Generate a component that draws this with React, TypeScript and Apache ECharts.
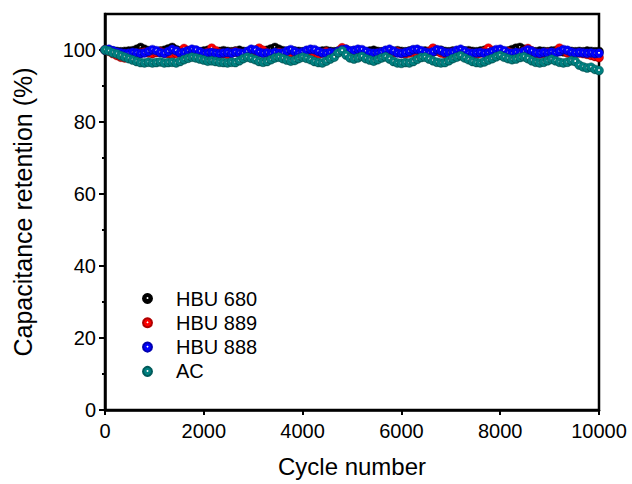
import React, { useEffect, useRef } from "react";
import * as echarts from "echarts";

const STEP = 80;
const COUNT = 126;
const cycles: number[] = Array.from({ length: COUNT }, (_, i) => i * STEP);

const seriesNames = ["HBU 680", "HBU 889", "HBU 888", "AC"];
const seriesColors = ["#000000", "#ff0000", "#0000ff", "#008080"];
const seriesDark = ["#000000", "#b00000", "#0000b0", "#005a5a"];

const hbu680: number[] = [
  100, 99.9, 99.7, 99.6, 99.5, 99.6, 99.7, 99.8, 100.2, 100.7,
  100.2, 99.8, 99.6, 99.5, 99.7, 99.9, 100.3, 100.7, 100.1, 99.7,
  99.5, 99.6, 99.8, 99.6, 99.5, 99.7, 99.9, 99.7, 99.5, 99.6,
  99.8, 99.6, 99.5, 99.7, 99.9, 99.6, 99.5, 99.7, 99.6, 99.5,
  99.7, 99.9, 100.3, 100.7, 100.2, 99.8, 99.6, 99.5, 99.7, 99.6,
  99.5, 99.7, 99.9, 99.6, 99.5, 99.7, 99.8, 99.6, 99.5, 99.7,
  99.9, 99.6, 99.5, 99.7, 99.8, 99.6, 99.5, 99.7, 99.9, 99.6,
  99.5, 99.7, 99.6, 99.5, 99.8, 99.6, 99.5, 99.7, 99.9, 99.6,
  99.5, 99.7, 99.6, 99.5, 99.7, 99.9, 99.6, 99.5, 99.7, 99.6,
  99.5, 99.7, 99.8, 99.6, 99.5, 99.7, 99.9, 99.6, 99.5, 99.7,
  99.6, 99.5, 99.7, 100.1, 100.5, 100.7, 100.2, 99.8, 99.6, 99.5,
  99.7, 99.6, 99.5, 99.7, 99.8, 99.6, 99.5, 99.7, 99.6, 99.5,
  99.6, 99.5, 99.7, 99.6, 99.5, 99.6,
];

const hbu889: number[] = [
  100, 99.6, 99.0, 98.5, 98.0, 97.8, 98.2, 98.6, 99.0, 99.2,
  99.4, 99.2, 99.0, 99.3, 99.5, 99.2, 99.0, 98.8, 99.1, 99.3,
  100.4, 99.8, 99.2, 99.0, 98.6, 99.0, 99.4, 100.5, 99.8, 99.2,
  99.0, 98.8, 99.2, 99.5, 99.1, 98.9, 99.0, 99.3, 99.6, 100.5,
  99.9, 99.2, 98.8, 99.0, 99.3, 99.1, 98.9, 99.2, 99.4, 99.0,
  98.7, 99.0, 99.3, 99.1, 98.8, 99.2, 99.5, 99.2, 99.0, 99.4,
  100.6, 100.2, 99.4, 99.0, 98.8, 99.2, 99.4, 99.0, 98.7, 99.1,
  99.3, 99.0, 98.8, 99.2, 99.5, 99.1, 98.9, 99.2, 99.4, 99.0,
  98.8, 99.2, 99.6, 100.5, 99.9, 99.2, 98.9, 99.1, 99.4, 99.2,
  98.9, 99.1, 99.3, 99.0, 98.8, 99.2, 99.6, 100.5, 99.8, 99.2,
  99.0, 99.3, 99.5, 99.1, 98.8, 99.2, 99.6, 100.4, 99.7, 99.1,
  98.9, 99.1, 99.3, 99.0, 99.4, 100.5, 99.8, 99.2, 98.9, 99.0,
  99.2, 99.0, 98.8, 98.5, 98.2, 97.9,
];

const hbu888: number[] = [
  100, 100.2, 99.8, 99.4, 99.2, 99.0, 99.1, 99.3, 99.2, 99.0,
  99.2, 99.6, 100.1, 99.8, 99.3, 99.1, 99.6, 100.2, 99.8, 99.2,
  99.4, 99.8, 100.2, 100.0, 99.5, 99.1, 99.2, 99.3, 99.1, 99.0,
  99.2, 99.3, 99.1, 99.4, 99.2, 99.1, 99.6, 100.2, 100.0, 99.4,
  99.1, 99.2, 99.0, 99.3, 99.1, 99.2, 99.7, 100.1, 99.6, 99.2,
  99.4, 99.9, 100.2, 100.1, 99.6, 99.2, 99.1, 99.3, 99.2, 99.6,
  100.1, 100.2, 99.8, 99.9, 100.2, 100.1, 99.6, 99.2, 99.1, 99.2,
  99.4, 99.9, 100.2, 99.7, 99.2, 99.1, 99.3, 99.6, 100.1, 100.2,
  99.8, 99.4, 99.2, 99.5, 100.1, 99.8, 99.3, 99.2, 99.4, 99.9,
  100.2, 99.7, 99.2, 99.1, 99.2, 99.3, 99.1, 99.2, 99.6, 100.1,
  100.2, 99.8, 99.2, 99.1, 99.3, 99.2, 99.6, 100.1, 99.7, 99.2,
  99.1, 99.3, 99.2, 99.4, 99.2, 99.6, 100.1, 99.9, 99.4, 99.2,
  99.3, 99.2, 99.1, 99.2, 99.0, 99.1,
];

const ac: number[] = [
  100, 99.7, 99.2, 98.9, 98.4, 98.0, 97.6, 97.2, 96.8, 96.5,
  96.4, 96.6, 96.4, 96.5, 96.7, 96.4, 96.5, 96.6, 96.4, 96.8,
  97.3, 97.7, 98.0, 97.8, 97.5, 97.2, 96.9, 97.0, 96.8, 96.6,
  96.5, 96.4, 96.6, 96.5, 97.0, 97.6, 98.0, 97.7, 97.3, 96.8,
  96.6, 96.8, 97.3, 97.8, 98.0, 97.6, 97.2, 96.9, 97.1, 97.6,
  98.0, 97.7, 97.3, 96.8, 96.5, 96.4, 96.9, 97.5, 98.0, 99.2,
  99.8, 98.6, 97.8, 97.5, 97.8, 98.2, 97.6, 97.2, 96.9, 97.3,
  97.8, 98.1, 97.5, 96.8, 96.4, 96.3, 96.5, 96.4, 96.8, 97.4,
  97.9, 98.0, 97.5, 97.0, 96.6, 96.4, 96.5, 97.0, 97.6, 98.0,
  98.4, 97.8, 97.3, 96.8, 96.5, 96.4, 96.7, 97.2, 97.6, 98.1,
  98.5, 98.0, 97.6, 97.3, 97.5, 97.9, 98.1, 97.6, 97.0, 96.6,
  96.4, 96.6, 97.0, 97.4, 97.0, 96.6, 96.4, 96.6, 97.0, 96.8,
  95.8, 95.3, 95.0, 95.2, 94.6, 94.3,
];

const allValues = [hbu680, hbu889, hbu888, ac];

const xTicks = [0, 2000, 4000, 6000, 8000, 10000];
const yLabelTicks = [0, 20, 40, 60, 80, 100];
const yMinorTicks = [10, 30, 50, 70, 90];

const FONT = "Liberation Sans, Arial, Helvetica, sans-serif";

function sphere(color: string, dark: string) {
  return {
    type: "radial",
    x: 0.5,
    y: 0.45,
    r: 0.5,
    colorStops: [
      { offset: 0, color: "#ffffff" },
      { offset: 0.12, color: "#f2f2f2" },
      { offset: 0.3, color: color },
      { offset: 0.85, color: color },
      { offset: 1, color: dark },
    ],
  };
}

export default function App() {
  const ref = useRef<HTMLDivElement>(null);

  useEffect(() => {
    if (!ref.current) return;
    const chart = echarts.init(ref.current, null, { renderer: "svg" });
    const series = seriesNames.map((name, k) => ({
      name,
      type: "scatter",
      symbol: "circle",
      symbolSize: 9,
      data: cycles.map((c, i) => [c, allValues[k][i]]),
      itemStyle: {
        color: sphere(seriesColors[k], seriesDark[k]),
        borderColor: seriesDark[k],
        borderWidth: 0.4,
        opacity: 1,
      },
      emphasis: { disabled: true },
    }));

    chart.setOption({
      animation: false,
      backgroundColor: "#ffffff",
      textStyle: { fontFamily: FONT },
      grid: {
        left: 105,
        right: 33,
        top: 14,
        bottom: 74,
        show: true,
        borderColor: "#000",
        borderWidth: 2.5,
        backgroundColor: "transparent",
      },
      legend: {
        orient: "vertical",
        left: 137,
        top: 283.5,
        itemWidth: 9,
        itemHeight: 9,
        itemGap: 4.3,
        padding: 5,
        textStyle: {
          fontFamily: FONT,
          fontSize: 20,
          color: "#000",
          padding: [0, 0, 0, 19],
        },
        data: seriesNames,
      },
      xAxis: {
        type: "value",
        min: 0,
        max: 10000,
        interval: 2000,
        name: "Cycle number",
        nameLocation: "middle",
        nameGap: 44,
        nameTextStyle: { fontFamily: FONT, fontSize: 24, color: "#000" },
        axisLine: { show: true, lineStyle: { color: "#000", width: 2.5 } },
        axisTick: { show: true, length: 5, customValues: xTicks, lineStyle: { color: "#000", width: 2 } },
        axisLabel: {
          fontFamily: FONT,
          fontSize: 20,
          color: "#000",
          margin: 11,
          customValues: xTicks,
          formatter: (v: number) => String(v),
        },
        splitLine: { show: false },
      },
      yAxis: [
        {
          type: "value",
          min: 0,
          max: 110,
          interval: 10,
          name: "Capacitance retention (%)",
          nameLocation: "middle",
          nameGap: 70,
          nameTextStyle: { fontFamily: FONT, fontSize: 25, color: "#000" },
          axisLine: { show: true, lineStyle: { color: "#000", width: 2.5 } },
          axisTick: {
            show: true,
            length: 6,
            customValues: yLabelTicks,
            lineStyle: { color: "#000", width: 2 },
          },
          axisLabel: {
            fontFamily: FONT,
            fontSize: 20,
            color: "#000",
            margin: 9,
            customValues: yLabelTicks,
          },
          splitLine: { show: false },
        },
        {
          type: "value",
          min: 0,
          max: 110,
          interval: 10,
          position: "left",
          axisLine: { show: false },
          axisTick: {
            show: true,
            length: 3,
            customValues: yMinorTicks,
            lineStyle: { color: "#000", width: 2 },
          },
          axisLabel: { show: false },
          splitLine: { show: false },
        },
      ],
      series,
    });
    return () => chart.dispose();
  }, []);

  return (
    <div
      ref={ref}
      style={{ position: "fixed", left: 0, top: 0, width: 632, height: 484, background: "#fff" }}
    />
  );
}
